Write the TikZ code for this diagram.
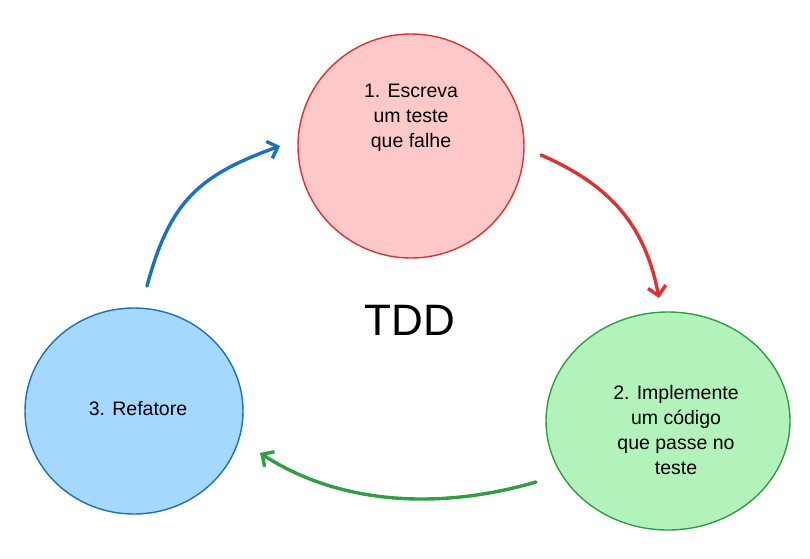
\documentclass[tikz,border=0pt]{standalone}
\usepackage{fontspec}
\setmainfont{Liberation Sans}
\usetikzlibrary{arrows.meta}
\begin{document}
\begin{tikzpicture}[x=1pt,y=-1pt,
  bub/.style={align=center,font=\fontsize{19.5}{25}\selectfont},
  arr/.style={line width=3.4pt,line cap=round,-{Straight Barb[length=9pt,width=18pt]}}]
\useasboundingbox (0,0) rectangle (810,558);
\definecolor{rf}{HTML}{FFC9C9}\definecolor{rs}{HTML}{E03131}
\definecolor{gf}{HTML}{B2F2BB}\definecolor{gs}{HTML}{2F9E44}
\definecolor{bf}{HTML}{A5D8FF}\definecolor{bs}{HTML}{1971C2}
\draw[rs,fill=rf,line width=1.4pt] (411,146) ellipse (113 and 112);
\draw[gs,fill=gf,line width=1.4pt] (668,421) ellipse (122 and 109);
\draw[bs,fill=bf,line width=1.4pt] (134,411) ellipse (109 and 103);
\node[bub] (r) at (411,118) {1. Escreva\\um teste\\que falhe};
\node[bub] (g) at (676,430) {2. Implemente\\um código\\que passe no\\teste};
\node[bub] (b) at (138,409) {3. Refatore};
\node[font=\fontsize{44}{48}\selectfont] (t) at (410,320) {TDD};
\coordinate (r1) at (541,155); \coordinate (r2) at (659,298);
\coordinate (g1) at (536,482); \coordinate (g2) at (260,453);
\coordinate (b1) at (147,286); \coordinate (b2) at (280,146);
\draw[arr,rs] (r1) .. controls (610,185) and (645,225) .. (r2);
\draw[arr,gs] (g1) .. controls (440,510) and (340,505) .. (g2);
\draw[arr,bs] (b1) .. controls (170,200) and (200,175) .. (b2);
\end{tikzpicture}
\end{document}
